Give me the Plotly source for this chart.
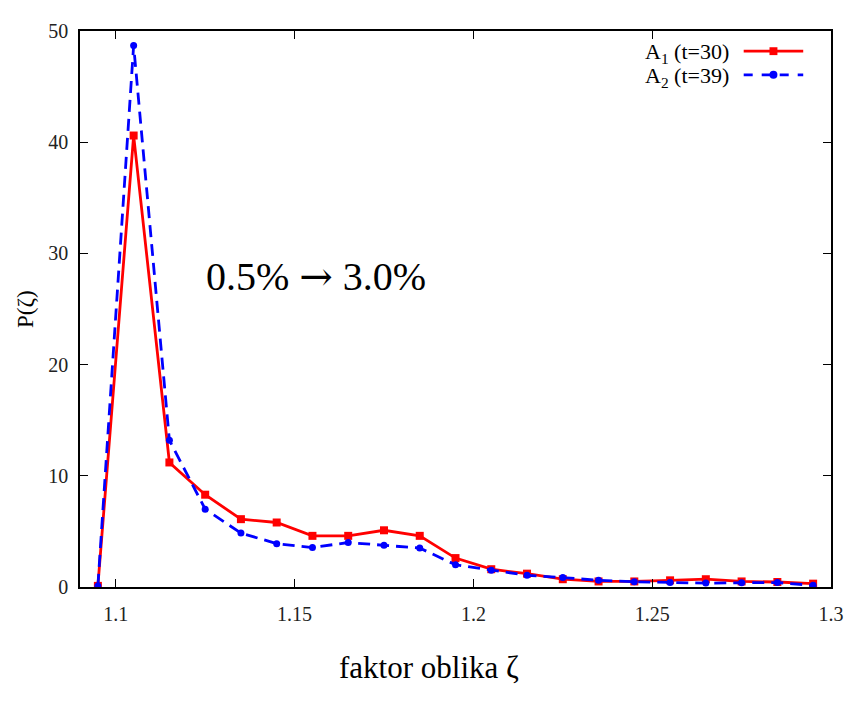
import plotly.graph_objects as go

zeta = [1.095, 1.105, 1.115, 1.125, 1.135, 1.145, 1.155, 1.165, 1.175, 1.185,
        1.195, 1.205, 1.215, 1.225, 1.235, 1.245, 1.255, 1.265, 1.275, 1.285, 1.295]
a1_t30 = [0.1, 40.6, 11.2, 8.3, 6.1, 5.8, 4.6, 4.6, 5.1, 4.6,
          2.6, 1.6, 1.2, 0.7, 0.5, 0.5, 0.6, 0.7, 0.5, 0.45, 0.3]
a2_t39 = [0.1, 48.7, 13.2, 7.0, 4.85, 3.9, 3.55, 4.0, 3.75, 3.5,
          2.0, 1.5, 1.05, 0.85, 0.6, 0.47, 0.41, 0.35, 0.38, 0.4, 0.15]

x_ticks = [1.1, 1.15, 1.2, 1.25, 1.3]
x_tick_labels = ["1.1", "1.15", "1.2", "1.25", "1.3"]
y_ticks = [0, 10, 20, 30, 40, 50]

SERIF = "Liberation Serif"

# page body has an 8px margin, so figure is drawn at (8, 8)
FIG_W, FIG_H = 848, 698
OFF = 8
PL, PT, PW, PH = 80, 22, 757, 565  # plot box in window pixels

fig = go.Figure()
fig.add_trace(go.Scatter(
    x=zeta, y=a1_t30, mode="lines+markers", name="A<sub>1</sub> (t=30)",
    line=dict(color="#ff0000", width=2.8),
    marker=dict(symbol="square", size=8, color="#ff0000"),
))
fig.add_trace(go.Scatter(
    x=zeta, y=a2_t39, mode="lines+markers", name="A<sub>2</sub> (t=39)",
    line=dict(color="#0000ff", width=2.8, dash="12px,7px"),
    marker=dict(symbol="circle", size=7, color="#0000ff"),
))

axis_common = dict(
    showline=True, linecolor="black", linewidth=1.5, mirror="allticks",
    ticks="inside", ticklen=8, tickwidth=1, tickcolor="black",
    showgrid=False, zeroline=False,
    tickfont=dict(family=SERIF, size=20, color="#222222"),
)

fig.update_xaxes(range=[1.09, 1.3], tickvals=x_ticks, ticktext=x_tick_labels,
                 ticklabelstandoff=8, **axis_common)
fig.update_yaxes(range=[0, 50], tickvals=y_ticks, ticklabelstandoff=6, **axis_common)

# Annotation inside the plot
fig.add_annotation(x=1.156, y=28.0, xref="x", yref="y",
                   text="0.5% <span style=\"font-family:'DejaVu Serif'\">→</span> 3.0%",
                   showarrow=False, font=dict(family=SERIF, size=40, color="black"))


def px(xp):
    return (xp - PL) / PW


def py(yp):
    return (PT + PH - yp) / PH


# Axis titles
fig.add_annotation(x=px(432), y=py(669), xref="paper", yref="paper", text="faktor oblika ζ",
                   showarrow=False, font=dict(family=SERIF, size=31, color="black"),
                   xanchor="center", yanchor="middle")
fig.add_annotation(x=px(25), y=py(304), xref="paper", yref="paper", text="P(ζ)",
                   showarrow=False, textangle=-90,
                   font=dict(family=SERIF, size=23, color="black"),
                   xanchor="center", yanchor="middle")

# gnuplot-style key (text left, sample right)
legend_rows = [
    ("A<sub>1</sub> (t=30)", 42.5, "#ff0000", "solid", "square"),
    ("A<sub>2</sub> (t=39)", 66.5, "#0000ff", "dash", "circle"),
]
for text, yp, col, dash, sym in legend_rows:
    fig.add_annotation(x=px(736), y=py(yp + 2), xref="paper", yref="paper", text=text,
                       showarrow=False, xanchor="right", yanchor="middle",
                       font=dict(family=SERIF, size=22, color="black"))
    fig.add_shape(type="line", xref="paper", yref="paper",
                  x0=px(749), x1=px(809), y0=py(yp), y1=py(yp),
                  line=dict(color=col, width=2.8, dash=dash))
    shape_type = "rect" if sym == "square" else "circle"
    fig.add_shape(type=shape_type, xref="paper", yref="paper",
                  x0=px(775), x1=px(783), y0=py(yp + 4), y1=py(yp - 4),
                  fillcolor=col, line=dict(width=0))

fig.update_layout(
    width=FIG_W, height=FIG_H,
    margin=dict(l=PL - OFF, r=FIG_W - (PL - OFF) - PW, t=PT - OFF, b=FIG_H - (PT - OFF) - PH),
    plot_bgcolor="white", paper_bgcolor="white",
    showlegend=False,
)

fig.write_html("out.html")
